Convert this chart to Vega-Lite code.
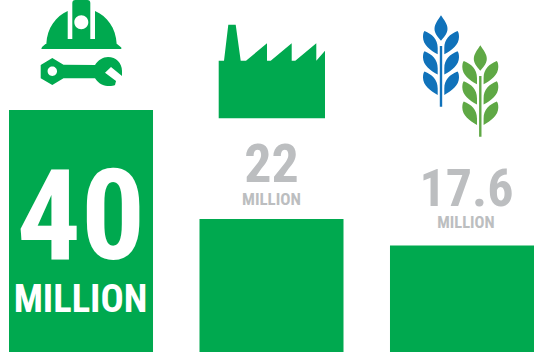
{
  "$schema": "https://vega.github.io/schema/vega-lite/v6.json",
  "width": 542,
  "height": 360,
  "padding": 0,
  "autosize": {"type": "none"},
  "background": "white",
  "view": {"stroke": null},
  "data": {
    "values": [
      {"sector": "Construction", "millions": 40, "figure": "40", "unit": "MILLION"},
      {"sector": "Manufacturing", "millions": 22, "figure": "22", "unit": "MILLION"},
      {"sector": "Agriculture", "millions": 17.6, "figure": "17.6", "unit": "MILLION"}
    ]
  },
  "encoding": {
    "x": {
      "field": "sector",
      "type": "nominal",
      "sort": null,
      "axis": null,
      "scale": {"range": [9, 534], "paddingInner": 0.244, "paddingOuter": 0}
    },
    "y": {
      "field": "millions",
      "type": "quantitative",
      "axis": null,
      "scale": {"domain": [0, 40], "range": [352, 110], "nice": false}
    }
  },
  "layer": [
    {"mark": {"type": "bar", "color": "#00a94f"}},
    {
      "transform": [{"filter": "datum.sector === 'Construction'"}],
      "layer": [
        {
          "mark": {"type": "text", "font": "Roboto Condensed", "fontWeight": "bold", "fontSize": 127, "color": "white", "align": "center", "baseline": "alphabetic", "dy": 149},
          "encoding": {"text": {"field": "figure"}}
        },
        {
          "mark": {"type": "text", "font": "Roboto Condensed", "fontWeight": "bold", "fontSize": 38.5, "color": "white", "align": "center", "baseline": "alphabetic", "dy": 202, "dx": -0.5},
          "encoding": {"text": {"field": "unit"}}
        },
        {
          "mark": {
            "type": "point", "filled": true, "opacity": 1, "size": 4, "color": "#00a94f", "yOffset": -85,
            "shape": "M-39.7,24 L-39,22 L-35.5,19 L-34.7,19 C-34,3 -25,-9 -13.3,-14 L-13.3,14 L-8.7,14 L-8.7,-22 Q-8.7,-25 -5.7,-25 L6.3,-25 Q9.3,-25 9.3,-22 L9.3,14 L14,14 L14,-14 C26,-9 35,3 35.7,19 L36,19 L40.3,22.5 L40.3,24 Z M-6.7,-2.7 A7,7 0 1 0 7.3,-2.7 A7,7 0 1 0 -6.7,-2.7 Z"
          }
        },
        {
          "mark": {
            "type": "point", "filled": true, "opacity": 1, "size": 4, "color": "#00a94f", "yOffset": -39,
            "shape": "M-28.7,-13 L-17.5,-6.3 L14,-6 C17,-11 22,-14 27,-14 C35,-14 41,-8 41,0 L41,5 L30,-4 L24,1.7 L35,10 L34,14 C31,15.5 20,17 14,7.3 L-17.5,7.3 L-28.7,14 L-40.3,7.3 L-40.3,-6 Z M-33.4,0.3 A4.7,4.7 0 1 0 -24,0.3 A4.7,4.7 0 1 0 -33.4,0.3 Z"
          }
        }
      ]
    },
    {
      "transform": [{"filter": "datum.sector === 'Manufacturing'"}],
      "layer": [
        {
          "mark": {"type": "text", "font": "Roboto Condensed", "fontWeight": "bold", "fontSize": 54, "color": "#bcbec0", "align": "center", "baseline": "alphabetic", "dy": -37},
          "encoding": {"text": {"field": "figure"}}
        },
        {
          "mark": {"type": "text", "font": "Roboto Condensed", "fontWeight": "bold", "fontSize": 17, "color": "#bcbec0", "align": "center", "baseline": "alphabetic", "dy": -14},
          "encoding": {"text": {"field": "unit"}}
        },
        {
          "mark": {
            "type": "point", "filled": true, "opacity": 1, "size": 4, "color": "#00a94f", "yOffset": -158.9,
            "shape": "M-52.8,58.3 L-52.8,0.7 L-47.5,0.7 L-43.2,-35.3 L-35.8,-35.3 L-30.8,0.7 L-25.5,0.7 L-4.5,-16.7 L-4.5,0.7 L-0.8,0.7 L20.2,-16.7 L20.2,0.7 L23.8,0.7 L44.8,-16.7 L44.8,0.7 L53.5,-9.3 L53.5,58.3 Z"
          }
        }
      ]
    },
    {
      "transform": [{"filter": "datum.sector === 'Agriculture'"}],
      "layer": [
        {
          "mark": {"type": "text", "font": "Roboto Condensed", "fontWeight": "bold", "fontSize": 52, "color": "#bcbec0", "align": "center", "baseline": "alphabetic", "dy": -39.5, "dx": 4.5},
          "encoding": {"text": {"field": "figure"}}
        },
        {
          "mark": {"type": "text", "font": "Roboto Condensed", "fontWeight": "bold", "fontSize": 16.5, "color": "#bcbec0", "align": "center", "baseline": "alphabetic", "dy": -17.5, "dx": 4},
          "encoding": {"text": {"field": "unit"}}
        },
        {
          "mark": {
            "type": "point", "filled": true, "opacity": 1, "size": 4, "color": "#1072ba", "xOffset": -21, "yOffset": -184.5,
            "shape": "M0,-45.7 C3,-41 6.5,-37 6.5,-32 C6.5,-27 2,-23 0,-20.3 C-2,-23 -6.5,-27 -6.5,-32 C-6.5,-37 -3,-41 0,-45.7 Z M-16.5,-30 C-9,-27 -3.3,-22 -3.3,-13 L-3.3,-6.7 C-11,-11 -18,-16 -18,-24 C-18,-27 -17.5,-29 -16.5,-30 Z M16.5,-30 C9,-27 3.3,-22 3.3,-13 L3.3,-6.7 C11,-11 18,-16 18,-24 C18,-27 17.5,-29 16.5,-30 Z M-16.5,-9.7 C-9,-6.7 -3.3,-1.7 -3.3,7.3 L-3.3,13.6 C-11,9.3 -18,4.3 -18,-3.7 C-18,-6.7 -17.5,-8.7 -16.5,-9.7 Z M16.5,-9.7 C9,-6.7 3.3,-1.7 3.3,7.3 L3.3,13.6 C11,9.3 18,4.3 18,-3.7 C18,-6.7 17.5,-8.7 16.5,-9.7 Z M-16.5,10.6 C-9,13.6 -3.3,18.6 -3.3,27.6 L-3.3,33.9 C-11,29.6 -18,24.6 -18,16.6 C-18,13.6 -17.5,11.6 -16.5,10.6 Z M16.5,10.6 C9,13.6 3.3,18.6 3.3,27.6 L3.3,33.9 C11,29.6 18,24.6 18,16.6 C18,13.6 17.5,11.6 16.5,10.6 Z M-1.2,-15 L1.2,-15 L1.2,45.7 L-1.2,45.7 Z"
          }
        },
        {
          "mark": {
            "type": "point", "filled": true, "opacity": 1, "size": 4, "color": "#5fa845", "xOffset": 18.3, "yOffset": -154.5,
            "shape": "M0,-45.7 C3,-41 6.5,-37 6.5,-32 C6.5,-27 2,-23 0,-20.3 C-2,-23 -6.5,-27 -6.5,-32 C-6.5,-37 -3,-41 0,-45.7 Z M-16.5,-30 C-9,-27 -3.3,-22 -3.3,-13 L-3.3,-6.7 C-11,-11 -18,-16 -18,-24 C-18,-27 -17.5,-29 -16.5,-30 Z M16.5,-30 C9,-27 3.3,-22 3.3,-13 L3.3,-6.7 C11,-11 18,-16 18,-24 C18,-27 17.5,-29 16.5,-30 Z M-16.5,-9.7 C-9,-6.7 -3.3,-1.7 -3.3,7.3 L-3.3,13.6 C-11,9.3 -18,4.3 -18,-3.7 C-18,-6.7 -17.5,-8.7 -16.5,-9.7 Z M16.5,-9.7 C9,-6.7 3.3,-1.7 3.3,7.3 L3.3,13.6 C11,9.3 18,4.3 18,-3.7 C18,-6.7 17.5,-8.7 16.5,-9.7 Z M-16.5,10.6 C-9,13.6 -3.3,18.6 -3.3,27.6 L-3.3,33.9 C-11,29.6 -18,24.6 -18,16.6 C-18,13.6 -17.5,11.6 -16.5,10.6 Z M16.5,10.6 C9,13.6 3.3,18.6 3.3,27.6 L3.3,33.9 C11,29.6 18,24.6 18,16.6 C18,13.6 17.5,11.6 16.5,10.6 Z M-1.2,-15 L1.2,-15 L1.2,45.7 L-1.2,45.7 Z"
          }
        }
      ]
    }
  ]
}
